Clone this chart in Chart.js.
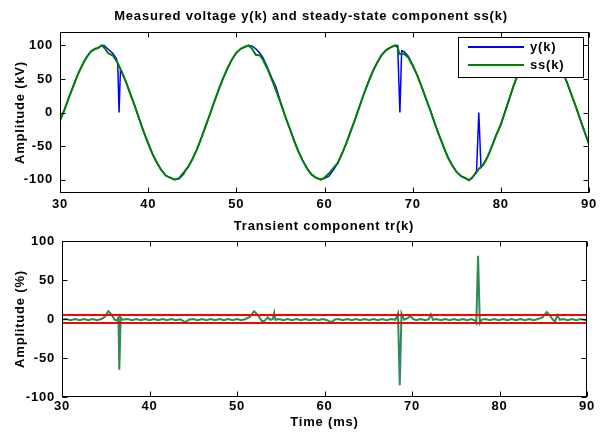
<!DOCTYPE html>
<html>
<head>
<meta charset="utf-8">
<title>Measured voltage and transient component</title>
<script src="https://cdn.jsdelivr.net/npm/chart.js@4.4.1/dist/chart.umd.min.js"></script>
<style>
    html, body { margin: 0; padding: 0; background: #fff; }
    #wrap { position: relative; width: 601px; height: 432px; overflow: hidden; }
    .panel { position: absolute; left: 0; width: 601px; height: 216px; }
    #panel-top { top: 0; }
    #panel-bot { top: 216px; }
</style>
</head>
<body>
<div id="wrap">
    <div class="panel" id="panel-top"><canvas id="cTop" width="601" height="216"></canvas></div>
    <div class="panel" id="panel-bot"><canvas id="cBot" width="601" height="216"></canvas></div>
</div>
<script>
// --- DATA (time in ms, value) ---

const timeTicks = [30, 40, 50, 60, 70, 80, 90];
const voltTicks = [-100, -50, 0, 50, 100];
const pctTicks = [-100, -50, 0, 50, 100];
const thresholdLevel = 5; // %

// steady-state component ss(k), kV
const ssPoints = [
    [30,-12],[30.5,4],[31,22],[31.5,39],[32,56],[32.5,70],[33,82],[33.5,91],[34,95],[34.3,96],
    [34.7,100],[35,97],[35.5,88],[36,85],[36.5,75],[37,61],[37.5,45],[38,27],[38.5,9],[39,-10],
    [39.5,-29],[40,-46],[40.5,-62],[41,-75],[41.5,-86],[42,-94],[42.5,-97],[43,-100],[43.5,-98],[44,-90],
    [44.5,-82],[45,-70],[45.5,-56],[46,-39],[46.5,-21],[47,-3],[47.5,16],[48,34],[48.5,51],[49,66],
    [49.5,79],[50,89],[50.5,95],[51,98],[51.4,100],[51.8,95],[52.2,86],[52.7,85],[53,79],[53.5,66],
    [54,50],[54.5,33],[55,15],[55.5,-4],[56,-22],[56.5,-40],[57,-57],[57.5,-71],[58,-83],[58.5,-92],
    [59,-97],[59.6,-100],[60,-97],[60.5,-91],[61,-83],[61.5,-75],[62,-61],[62.5,-45],[63,-27],[63.5,-9],
    [64,10],[64.5,29],[65,46],[65.5,62],[66,75],[66.5,86],[67,93],[67.5,97],[68,100],[68.3,97],
    [68.5,87],[69,88],[69.5,82],[70,70],[70.5,56],[71,39],[71.5,21],[72,3],[72.5,-16],[73,-34],
    [73.5,-51],[74,-67],[74.5,-79],[75,-89],[75.5,-95],[76,-98],[76.4,-101],[76.8,-96],[77.2,-90],[77.5,-84],
    [78,-78],[78.5,-66],[79,-50],[79.5,-33],[80,-18],[80.5,2],[81,22],[81.5,42],[82,58],[82.5,71],
    [83,83],[83.5,92],[84,98],[84.5,100],[85,99],[85.5,94],[86,86],[86.5,75],[87,61],[87.5,45],
    [88,27],[88.5,9],[89,-10],[89.5,-29],[90,-47]
];

// measured voltage y(k), kV
const yPoints = [
    [30,-12],[30.5,4],[31,22],[31.5,39],[32,56],[32.5,70],[33,82],[33.5,91],[34,95],[34.3,96],
    [34.7,100],[35,100],[35.5,94],[36,88],[36.4,80],[36.55,72],[36.7,0],[36.85,62],[37,60],[37.5,45],
    [38,27],[38.5,9],[39,-10],[39.5,-29],[40,-46],[40.5,-62],[41,-75],[41.5,-86],[42,-94],[42.5,-97],
    [43,-100],[43.5,-99],[44,-92],[44.3,-85],[44.5,-82],[45,-70],[45.5,-56],[46,-39],[46.5,-21],[47,-3],
    [47.5,16],[48,34],[48.5,51],[49,66],[49.5,79],[50,89],[50.5,95],[51,98],[51.4,100],[51.8,99],
    [52.2,95],[52.7,88],[53,82],[53.5,68],[54,52],[54.5,38],[55,16],[55.5,-4],[56,-22],[56.5,-40],
    [57,-57],[57.5,-71],[58,-83],[58.5,-92],[59,-97],[59.6,-100],[60,-98],[60.5,-95],[61,-86],[61.5,-76],
    [62,-61],[62.5,-45],[63,-27],[63.5,-9],[64,10],[64.5,29],[65,46],[65.5,62],[66,75],[66.5,86],
    [67,93],[67.5,97],[68,100],[68.3,100],[68.55,0],[68.75,92],[69,91],[69.5,84],[70,71],[70.5,56],
    [71,39],[71.5,21],[72,4],[72.5,-16],[73,-34],[73.5,-51],[74,-67],[74.5,-79],[75,-89],[75.5,-95],
    [76,-98],[76.4,-101],[76.8,-97],[77.25,-87],[77.5,0],[77.75,-82],[78,-78],[78.5,-66],[79,-50],[79.5,-33],
    [80,-18],[80.5,2],[81,22],[81.5,42],[82,58],[82.5,71],[83,83],[83.5,92],[84,98],[84.5,100],
    [85,99],[85.5,94],[86,86],[86.5,75],[87,61],[87.5,45],[88,27],[88.5,9],[89,-10],[89.5,-29],
    [90,-47]
];

// transient component tr(k), %
const trPoints = [
    [30,-1],[30.5,0],[31,-1.5],[31.5,0],[32,-1.5],[32.5,0],[33,-1.5],[33.5,0],[34,-1.5],[34.5,0],
    [34.9,3],[35.3,10],[35.7,5],[36,-1],[36.3,-2],[36.45,2],[36.55,-65],[36.7,2],[36.9,-1],[37.5,0],
    [38,-1.5],[38.5,0],[39,-1.5],[39.5,0],[40,-1.5],[40.5,0],[41,-1.5],[41.5,0],[42,-1.5],[42.5,0],
    [43,-1.5],[43.5,-0.5],[44.1,-4],[44.5,-1],[45,0],[45.5,-1.5],[46,0],[46.5,-1.5],[47,0],[47.5,-1.5],
    [48,0],[48.5,-1.5],[49,0],[49.5,-1.5],[50,0],[50.5,-1.5],[51,0],[51.5,3],[51.95,10],[52.4,5],
    [52.8,-2],[53.1,-3],[53.5,2],[53.8,-1],[54.1,0],[54.25,8],[54.4,-1],[54.8,0],[55.3,-1.5],[55.8,0],
    [56.3,-1.5],[56.8,0],[57.3,-1.5],[57.8,0],[58.3,-1.5],[58.8,0],[59.3,-1.5],[59.8,0],[60.3,-1.5],[60.8,-4],
    [61.2,-0.5],[61.6,0],[62.1,-1.5],[62.6,0],[63.1,-1.5],[63.6,0],[64.1,-1.5],[64.6,0],[65.1,-1.5],[65.6,0],
    [66.1,-1.5],[66.6,0],[67.1,-1.5],[67.6,0],[68.1,-1],[68.4,7],[68.6,-85],[68.8,7],[69.1,-1],[69.5,1],
    [69.8,4],[70.1,0],[70.5,-1.5],[71,0],[71.5,-1.5],[71.9,-0.5],[72.15,6],[72.4,-1],[72.8,0],[73.3,-1.5],
    [73.8,0],[74.3,-1.5],[74.8,0],[75.3,-1.5],[75.8,0],[76.3,-1.5],[76.8,0],[77.2,-2],[77.35,-5],[77.55,81],
    [77.75,-5],[77.95,-1],[78.4,0],[78.9,-1.5],[79.4,0],[79.9,-1.5],[80.4,0],[80.9,-1.5],[81.4,0],[81.9,-1.5],
    [82.4,0],[82.9,-1.5],[83.4,0],[83.9,-1.5],[84.4,0],[84.9,2],[85.4,9],[85.8,4],[86.1,-1],[86.35,-3],
    [86.6,5],[86.9,-1],[87.3,0],[87.8,-1.5],[88.3,0],[88.8,-1.5],[89.3,0],[89.8,-1.5],[90,-1]
];

// --- HELPERS ---

const FONT = '"Liberation Sans", Arial, Helvetica, sans-serif';
const SPACING = '0.8px'; // the old matlab export spreads its glyphs a bit
Chart.defaults.font.family = FONT;
Chart.defaults.font.weight = 'bold';
Chart.defaults.font.size = 13;
Chart.defaults.color = '#000';

const toXY = pts => pts.map(p => ({ x: p[0], y: p[1] }));

// letter spacing for every text on the canvas
const spacing = {
    id: 'spacing',
    beforeDraw(chart) { chart.ctx.letterSpacing = SPACING; }
};

// MATLAB-ish box with inward ticks on all four sides
const frameTicks = {
    id: 'frameTicks',
    afterDatasetsDraw(chart) {
        const { ctx, chartArea: a, scales: { x, y } } = chart;
        const L = Math.round(a.left) + 0.5, R = Math.round(a.right) - 0.5;
        const T = Math.round(a.top) + 0.5, B = Math.round(a.bottom) - 0.5;
        const len = 5;
        ctx.save();
        ctx.strokeStyle = '#000';
        ctx.lineWidth = 1;
        ctx.beginPath();
        x.ticks.forEach(t => {
            const px = Math.round(x.getPixelForValue(t.value)) + 0.5;
            ctx.moveTo(px, B); ctx.lineTo(px, B - len);
            ctx.moveTo(px, T); ctx.lineTo(px, T + len);
        });
        y.ticks.forEach(t => {
            const py = Math.round(y.getPixelForValue(t.value)) + 0.5;
            ctx.moveTo(L, py); ctx.lineTo(L + len, py);
            ctx.moveTo(R, py); ctx.lineTo(R - len, py);
        });
        ctx.stroke();
        ctx.strokeRect(L, T, R - L, B - T);
        ctx.restore();
    }
};

// title text drawn at a given spot
const panelTitle = {
    id: 'panelTitle',
    afterDraw(chart, args, o) {
        const ctx = chart.ctx;
        ctx.save();
        ctx.letterSpacing = SPACING;
        ctx.font = 'bold 13px ' + FONT;
        ctx.fillStyle = '#000';
        ctx.textAlign = 'center';
        ctx.textBaseline = 'middle';
        ctx.fillText(o.text, o.x, o.y);
        ctx.restore();
    }
};

// legend box inside the axes
const boxLegend = {
    id: 'boxLegend',
    afterDraw(chart, args, o) {
        const ctx = chart.ctx;
        const seen = new Set();
        const items = chart.data.datasets.filter(d => !seen.has(d.label) && seen.add(d.label));
        ctx.save();
        ctx.letterSpacing = SPACING;
        ctx.fillStyle = '#fff';
        ctx.fillRect(o.left, o.top, o.width, o.height);
        ctx.strokeStyle = '#000';
        ctx.lineWidth = 1;
        ctx.strokeRect(o.left + 0.5, o.top + 0.5, o.width, o.height);
        ctx.font = 'bold 13px ' + FONT;
        ctx.textBaseline = 'middle';
        items.forEach((d, i) => {
            const yy = o.rows[i];
            ctx.strokeStyle = d.borderColor;
            ctx.lineWidth = 2;
            ctx.beginPath();
            ctx.moveTo(o.x1, yy); ctx.lineTo(o.x2, yy);
            ctx.stroke();
            ctx.fillStyle = '#000';
            ctx.fillText(d.label, o.textX, yy);
        });
        ctx.restore();
    }
};

function fixedTicks(list) {
    return scale => { scale.ticks = list.map(v => ({ value: v })); };
}

function axes(yMin, yMax, yTicks, yWidth, xHeight, xPad, xTitle, yTitle) {
    return {
        x: {
            type: 'linear', min: 30, max: 90,
            afterBuildTicks: fixedTicks(timeTicks),
            afterFit: s => { s.height = xHeight; },
            grid: { display: false, drawTicks: false },
            border: { display: false },
            ticks: { padding: xPad, maxRotation: 0, font: { size: 13, weight: 'bold' } },
            title: { display: !!xTitle, text: xTitle, font: { size: 13, weight: 'bold' }, padding: { top: 4, bottom: 2 } }
        },
        y: {
            min: yMin, max: yMax,
            afterBuildTicks: fixedTicks(yTicks),
            afterFit: s => { s.width = yWidth; },
            grid: { display: false, drawTicks: false },
            border: { display: false },
            ticks: { padding: 7, font: { size: 13, weight: 'bold' } },
            title: { display: true, text: yTitle, font: { size: 13, weight: 'bold' }, padding: { top: 4, bottom: 4 } }
        }
    };
}

// --- CHARTS ---

new Chart(document.getElementById('cTop'), {
    type: 'line',
    data: {
        datasets: [
            { label: 'y(k)', data: toXY(yPoints), borderColor: '#0000ff', borderWidth: 1.5, order: 1 },
            { label: 'ss(k)', data: toXY(ssPoints), borderColor: '#008000', borderWidth: 2, order: 0 }
        ]
    },
    options: {
        responsive: false,
        animation: false,
        elements: { point: { radius: 0 }, line: { tension: 0 } },
        layout: { padding: { left: 9, right: 12, top: 32, bottom: 0 } },
        scales: axes(-120, 120, voltTicks, 51, 23, 4, '', 'Amplitude (kV)'),
        plugins: {
            legend: { display: false },
            tooltip: { enabled: false },
            panelTitle: { text: 'Measured voltage y(k) and steady-state component ss(k)', x: 311, y: 16 },
            boxLegend: { left: 458, top: 37, width: 125, height: 40, x1: 468, x2: 524, textX: 530, rows: [47, 65] }
        }
    },
    plugins: [spacing, frameTicks, panelTitle, boxLegend]
});

new Chart(document.getElementById('cBot'), {
    type: 'line',
    data: {
        datasets: [
            { label: 'tr(k)', data: toXY(trPoints), borderColor: '#2e8b57', borderWidth: 2, order: 1 },
            { label: 'Threshold', data: [{ x: 30, y: thresholdLevel }, { x: 90, y: thresholdLevel }], borderColor: '#ff0000', borderWidth: 2, order: 0 },
            { label: 'Threshold', data: [{ x: 30, y: -thresholdLevel }, { x: 90, y: -thresholdLevel }], borderColor: '#ff0000', borderWidth: 2, order: 0 }
        ]
    },
    options: {
        responsive: false,
        animation: false,
        elements: { point: { radius: 0 }, line: { tension: 0 } },
        layout: { padding: { left: 9, right: 14, top: 25, bottom: 0 } },
        scales: axes(-100, 100, pctTicks, 53, 35, 2, 'Time (ms)', 'Amplitude (%)'),
        plugins: {
            legend: { display: false },
            tooltip: { enabled: false },
            panelTitle: { text: 'Transient component tr(k)', x: 324, y: 10 },
            boxLegend: { left: 432, top: 338, width: 142, height: 45, x1: 440, x2: 485, textX: 488, rows: [351, 371] }
        }
    },
    plugins: [spacing, frameTicks, panelTitle, boxLegend]
});
</script>
</body>
</html>
